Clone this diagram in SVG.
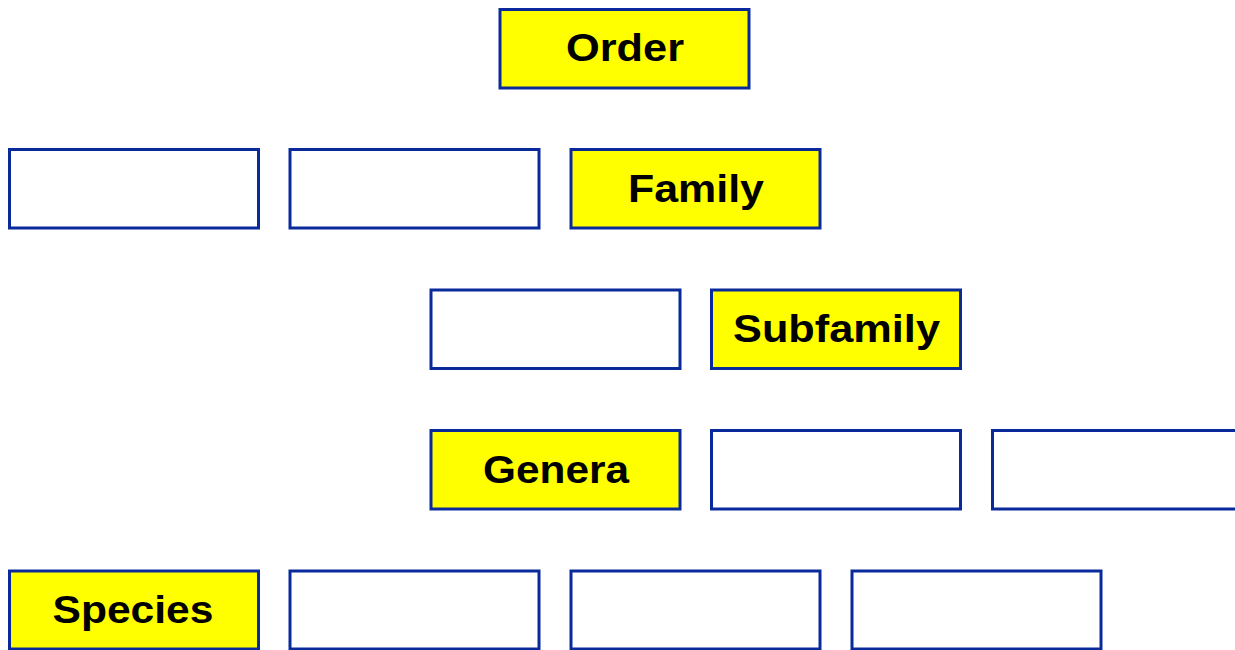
<svg xmlns="http://www.w3.org/2000/svg" width="1235" height="650" viewBox="0 0 1235 650">
<style>
.box{fill:#ffffff;stroke:#0a2a9c;stroke-width:3}
.hl{fill:#ffff00}
.lbl{font-family:"Liberation Sans",Arial,sans-serif;font-weight:bold;font-size:39px;fill:#000000;text-anchor:middle}
</style>
<rect width="1235" height="650" fill="#ffffff"/>
<g id="order"><rect class="box hl" x="500" y="9.5" width="249" height="78.5"/><text class="lbl" x="625" y="61" textLength="118" lengthAdjust="spacingAndGlyphs">Order</text></g>
<g id="family-blank-1"><rect class="box" x="9.5" y="149.5" width="249" height="78.5"/></g>
<g id="family-blank-2"><rect class="box" x="290" y="149.5" width="249" height="78.5"/></g>
<g id="family"><rect class="box hl" x="571" y="149.5" width="249" height="78.5"/><text class="lbl" x="696" y="202" textLength="136" lengthAdjust="spacingAndGlyphs">Family</text></g>
<g id="subfamily-blank"><rect class="box" x="431" y="290" width="249" height="78.5"/></g>
<g id="subfamily"><rect class="box hl" x="711.5" y="290" width="249" height="78.5"/><text class="lbl" x="836.5" y="342" textLength="207" lengthAdjust="spacingAndGlyphs">Subfamily</text></g>
<g id="genera"><rect class="box hl" x="431" y="430.5" width="249" height="78.5"/><text class="lbl" x="556" y="483" textLength="146" lengthAdjust="spacingAndGlyphs">Genera</text></g>
<g id="genera-blank-1"><rect class="box" x="711.5" y="430.5" width="249" height="78.5"/></g>
<g id="genera-blank-2"><rect class="box" x="992.5" y="430.5" width="249" height="78.5"/></g>
<g id="species"><rect class="box hl" x="9.5" y="571" width="249" height="78"/><text class="lbl" x="133" y="623" textLength="161" lengthAdjust="spacingAndGlyphs">Species</text></g>
<g id="species-blank-1"><rect class="box" x="290" y="571" width="249" height="78"/></g>
<g id="species-blank-2"><rect class="box" x="571" y="571" width="249" height="78"/></g>
<g id="species-blank-3"><rect class="box" x="852" y="571" width="249" height="78"/></g>
<g id="connectors"></g>
</svg>
